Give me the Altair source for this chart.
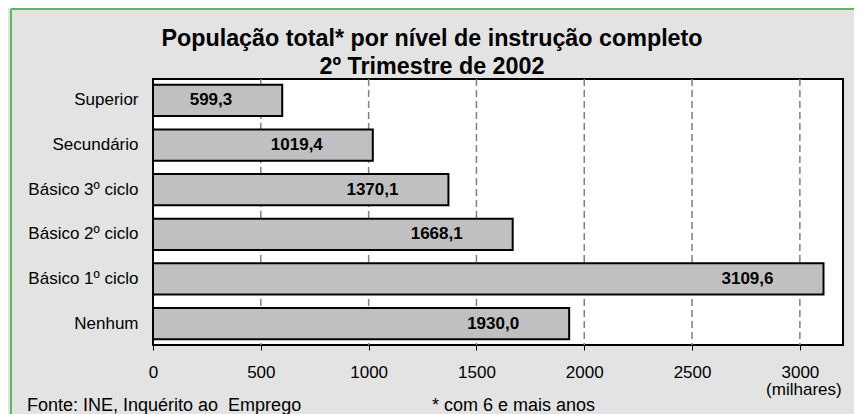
import altair as alt
import pandas as pd

categories = ["Superior", "Secundário", "Básico 3º ciclo", "Básico 2º ciclo", "Básico 1º ciclo", "Nenhum"]
values = [599.3, 1019.4, 1370.1, 1668.1, 3109.6, 1930.0]
value_labels = ["599,3", "1019,4", "1370,1", "1668,1", "3109,6", "1930,0"]
x_ticks = [0, 500, 1000, 1500, 2000, 2500, 3000]
grid_values = [500, 1000, 1500, 2000, 2500, 3000]

title_line1 = "População total* por nível de instrução completo"
title_line2 = "2º Trimestre de 2002"
source_text = "Fonte: INE, Inquérito ao\u00a0 Emprego"
note_text = "* com 6 e mais anos"
unit_text = "(milhares)"

W, H = 690, 266
FONT = "Liberation Sans"

df = pd.DataFrame({"cat": categories, "val": values, "lab": value_labels})
grid_df = pd.DataFrame({"g": grid_values})

xscale = alt.Scale(domain=[0, 3200], nice=False, zero=True)
yscale = alt.Scale(domain=categories, paddingInner=0.3, paddingOuter=0.13)

grid = alt.Chart(grid_df).mark_rule(color="#808080", strokeWidth=1.5, strokeDash=[7, 4]).encode(
    x=alt.X("g:Q", scale=xscale,
            axis=alt.Axis(values=x_ticks, title=None, grid=False, domain=False, format="d",
                          tickSize=5, tickColor="#000000", tickWidth=1,
                          labelFontSize=17, labelColor="#000000", labelFont=FONT,
                          labelPadding=14, labelFlush=False)),
)

bars = alt.Chart(df).mark_bar(fill="#c0c0c0", stroke="#000000", strokeWidth=2).encode(
    x=alt.X("val:Q", scale=xscale),
    y=alt.Y("cat:N", scale=yscale, sort=categories,
            axis=alt.Axis(title=None, domain=False, ticks=False, labelFontSize=17,
                          labelColor="#000000", labelFont=FONT, labelPadding=15)),
)

texts = alt.Chart(df).mark_text(align="right", baseline="middle", dx=-50, fontSize=17,
                                fontWeight="bold", font=FONT, color="#000000").encode(
    x=alt.X("val:Q", scale=xscale),
    y=alt.Y("cat:N", scale=yscale, sort=categories),
    text="lab:N",
)

unit = alt.Chart(pd.DataFrame({"t": [unit_text], "v": [3000]})).mark_text(
    align="center", baseline="middle", fontSize=17, font=FONT, color="#000000", dx=4).encode(
    x=alt.X("v:Q", scale=xscale),
    y=alt.value(H + 45),
    text="t:N",
)

source = alt.Chart(pd.DataFrame({"t": [source_text]})).mark_text(
    align="left", baseline="middle", fontSize=18, font=FONT, color="#000000").encode(
    x=alt.value(-126), y=alt.value(H + 61), text="t:N")

note = alt.Chart(pd.DataFrame({"t": [note_text]})).mark_text(
    align="left", baseline="middle", fontSize=18, font=FONT, color="#000000").encode(
    x=alt.value(279), y=alt.value(H + 61), text="t:N")

t1 = alt.Chart(pd.DataFrame({"t": [title_line1]})).mark_text(
    align="center", baseline="alphabetic", fontSize=23.3, fontWeight="bold", font=FONT,
    color="#000000").encode(x=alt.value(279), y=alt.value(-33), text="t:N")
t2 = alt.Chart(pd.DataFrame({"t": [title_line2]})).mark_text(
    align="center", baseline="alphabetic", fontSize=23.3, fontWeight="bold", font=FONT,
    color="#000000").encode(x=alt.value(279), y=alt.value(-5), text="t:N")

green_v = alt.Chart(pd.DataFrame({"a": [0]})).mark_rule(color="#5cb85c", strokeWidth=2).encode(
    x=alt.value(-142), y=alt.value(-70), y2=alt.value(H + 80))
green_h = alt.Chart(pd.DataFrame({"a": [0]})).mark_rule(color="#5cb85c", strokeWidth=2).encode(
    x=alt.value(-142), x2=alt.value(W + 30), y=alt.value(-70))

chart = alt.layer(grid, bars, texts, unit, source, note, t1, t2, green_v, green_h).properties(
    width=W, height=H,
    autosize=alt.AutoSizeParams(type="none"),
    padding={"left": 145, "top": 71, "right": 11, "bottom": 69},
    background="#e3e3e3",
).configure_view(fill="#ffffff", stroke="#000000", strokeWidth=2)

chart.save("out.html", embed_options={"renderer": "svg", "actions": False})
